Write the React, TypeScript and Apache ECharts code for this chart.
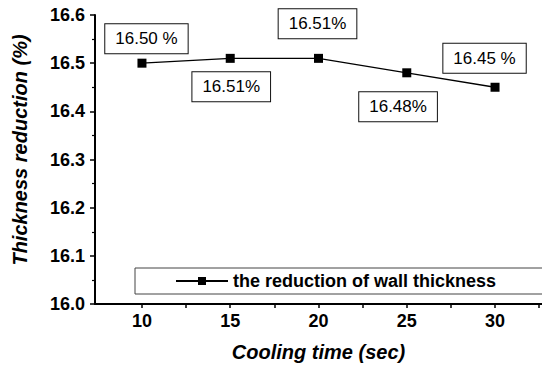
import React, { useEffect, useRef } from "react";
import * as echarts from "echarts";

const coolingTimes = [10, 15, 20, 25, 30];
const reductions = [16.5, 16.51, 16.51, 16.48, 16.45];
const annotations = ["16.50 %", "16.51%", "16.51%", "16.48%", "16.45 %"];
const xTickLabels = [10, 15, 20, 25, 30];
const xMinorTicks = [10, 12.5, 15, 17.5, 20, 22.5, 25, 27.5, 30, 32.5];
const seriesName = "the reduction of wall thickness";

const labelOffsets = [
  [4.5, -24.5],
  [1, 28.5],
  [-1, -34.5],
  [-8.7, 34],
  [-10.5, -29],
];

const FONT = "'Liberation Sans', Arial, sans-serif";

export default function App() {
  const ref = useRef<HTMLDivElement>(null);
  useEffect(() => {
    if (!ref.current) return;
    const chart = echarts.init(ref.current, undefined, { renderer: "svg" });
    const data = coolingTimes.map((x, i) => ({
      value: [x, reductions[i]],
      label: { offset: labelOffsets[i], formatter: annotations[i] },
    }));
    chart.setOption({
      animation: false,
      backgroundColor: "#ffffff",
      grid: { left: 95, right: 0, top: 15, bottom: 62, containLabel: false },
      xAxis: {
        type: "value",
        min: 7.34,
        max: 32.66,
        name: "Cooling time (sec)",
        nameLocation: "middle",
        nameGap: 38,
        nameTextStyle: {
          fontFamily: FONT,
          fontSize: 20,
          fontWeight: "bold",
          fontStyle: "italic",
          color: "#000",
        },
        axisLine: { show: true, onZero: false, lineStyle: { color: "#000", width: 2 } },
        axisTick: {
          show: true,
          inside: false,
          length: 4,
          customValues: xMinorTicks,
          lineStyle: { color: "#000", width: 1.5 },
        },
        axisLabel: {
          customValues: xTickLabels,
          margin: 8,
          fontFamily: FONT,
          fontSize: 18,
          fontWeight: "bold",
          color: "#000",
        },
        splitLine: { show: false },
      },
      yAxis: {
        type: "value",
        min: 16.0,
        max: 16.6,
        interval: 0.1,
        axisLine: { show: true, lineStyle: { color: "#000", width: 2 } },
        axisTick: { show: true, inside: false, length: 5, lineStyle: { color: "#000", width: 1.5 } },
        minorTick: { show: true, splitNumber: 2, length: 3, lineStyle: { color: "#000", width: 1.2 } },
        axisLabel: {
          margin: 10,
          fontFamily: FONT,
          fontSize: 18,
          fontWeight: "bold",
          color: "#000",
          formatter: (v: number) => v.toFixed(1),
        },
        splitLine: { show: false },
      },
      legend: {
        show: true,
        left: 135,
        top: 268,
        padding: [4, 80, 4, 40],
        borderColor: "#444",
        borderWidth: 1,
        itemWidth: 52,
        itemHeight: 10,
        itemGap: 10,
        textStyle: { fontFamily: FONT, fontSize: 18, fontWeight: "bold", color: "#000" },
        data: [seriesName],
      },
      graphic: [
        {
          type: "text",
          x: 20,
          y: 150,
          rotation: Math.PI / 2,
          style: {
            text: "Thickness reduction (%)",
            fontFamily: FONT,
            fontSize: 20,
            fontWeight: "bold",
            fontStyle: "italic",
            fill: "#000",
            align: "center",
            verticalAlign: "middle",
          },
        },
      ],
      series: [
        {
          name: seriesName,
          type: "line",
          data,
          symbol: "rect",
          symbolSize: 9,
          itemStyle: { color: "#000" },
          lineStyle: { color: "#000", width: 1.3 },
          label: {
            show: true,
            position: "inside",
            align: "center",
            verticalAlign: "middle",
            fontFamily: FONT,
            fontSize: 17,
            lineHeight: 19,
            color: "#000",
            backgroundColor: "#fff",
            borderColor: "#111",
            borderWidth: 1,
            padding: [5, 10, 5, 10],
          },
        },
      ],
    });
    return () => chart.dispose();
  }, []);
  return (
    <div
      ref={ref}
      style={{ position: "fixed", left: 0, top: 0, width: 542, height: 367, background: "#fff" }}
    />
  );
}
